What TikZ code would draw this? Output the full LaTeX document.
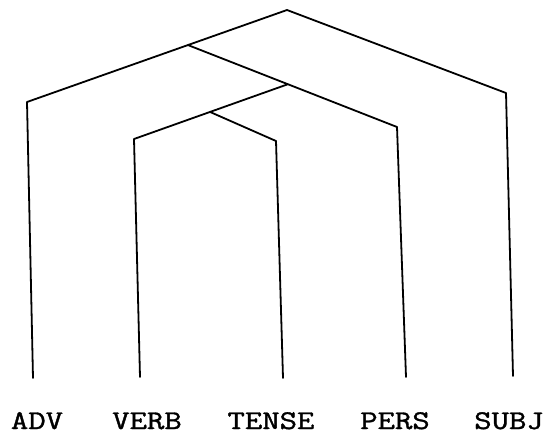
\documentclass[tikz,border=0pt]{standalone}
\usepackage{fontspec}
\usepackage{graphicx}
\usetikzlibrary{calc}
\newfontfamily\labfont{Latin Modern Mono}[FakeBold=1.2]
\newcommand{\labtext}[1]{\scalebox{1.25}[1]{\labfont\fontsize{27}{27}\selectfont #1}}
\begin{document}
\begin{tikzpicture}[x=1pt,y=-1pt,
  branch/.style={line width=1.8pt, line join=round, line cap=round},
  lab/.style={anchor=base, inner sep=0pt}]
\useasboundingbox (0,0) rectangle (553,434);
% corners and ends
\coordinate (apex) at (287,10);
\coordinate (advc) at (27,102);
\coordinate (subjc) at (506,93);
\coordinate (persc) at (397,127);
\coordinate (verbc) at (134,139);
\coordinate (tensec) at (276,141);
% labels
\node[lab] (adv) at (37,429) {\labtext{ADV}};
\node[lab] (verb) at (147,429) {\labtext{VERB}};
\node[lab] (tense) at (271,429) {\labtext{TENSE}};
\node[lab] (pers) at (395,429) {\labtext{PERS}};
\node[lab] (subj) at (509,429) {\labtext{SUBJ}};
% line ends above labels
\coordinate (adve) at (33,378);
\coordinate (verbe) at (140,377);
\coordinate (tensee) at (283,378);
\coordinate (perse) at (406,377);
\coordinate (subje) at (513,376);
% junctions
\coordinate (j1) at ($(apex)!0.381!(advc)$);
\coordinate (j2) at ($(j1)!0.478!(persc)$);
\coordinate (j3) at ($(j2)!0.506!(verbc)$);
% branches
\draw[branch] (adve) -- (advc) -- (apex) -- (subjc) -- (subje);
\draw[branch] (j1) -- (persc) -- (perse);
\draw[branch] (j2) -- (verbc) -- (verbe);
\draw[branch] (j3) -- (tensec) -- (tensee);
\end{tikzpicture}
\end{document}
